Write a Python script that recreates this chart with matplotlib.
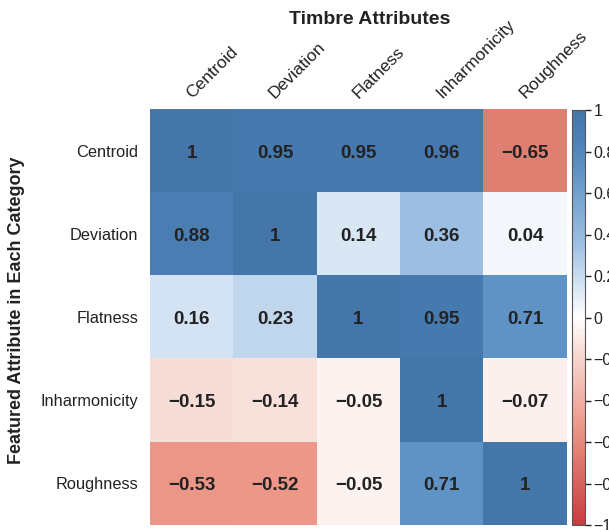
import numpy as np
import matplotlib
matplotlib.use("Agg")
import matplotlib.pyplot as plt
from matplotlib.colors import LinearSegmentedColormap

rows = ["Centroid", "Deviation", "Flatness", "Inharmonicity", "Roughness"]
cols = ["Centroid", "Deviation", "Flatness", "Inharmonicity", "Roughness"]
values = [
    [1.00, 0.95, 0.95, 0.96, -0.65],
    [0.88, 1.00, 0.14, 0.36, 0.04],
    [0.16, 0.23, 1.00, 0.95, 0.71],
    [-0.15, -0.14, -0.05, 1.00, -0.07],
    [-0.53, -0.52, -0.05, 0.71, 1.00],
]
labels = [
    ["1", "0.95", "0.95", "0.96", "\u22120.65"],
    ["0.88", "1", "0.14", "0.36", "0.04"],
    ["0.16", "0.23", "1", "0.95", "0.71"],
    ["\u22120.15", "\u22120.14", "\u22120.05", "1", "\u22120.07"],
    ["\u22120.53", "\u22120.52", "\u22120.05", "0.71", "1"],
]
cbar_ticks = [1, 0.8, 0.6, 0.4, 0.2, 0, -0.2, -0.4, -0.6, -0.8, -1]

plt.rcParams['font.family'] = ['Liberation Sans', 'DejaVu Sans']

anchors = [
    (-1.00, (200, 60, 65)),
    (-0.65, (224, 128, 115)),
    (-0.52, (238, 152, 138)),
    (-0.15, (248, 222, 216)),
    (0.00, (255, 255, 255)),
    (0.14, (217, 231, 245)),
    (0.36, (157, 191, 227)),
    (0.71, (95, 147, 198)),
    (0.88, (75, 127, 180)),
    (1.00, (68, 118, 170)),
]
cmap = LinearSegmentedColormap.from_list(
    "custom", [((v + 1) / 2, tuple(c / 255 for c in rgb)) for v, rgb in anchors])

W, H = 609, 530
fig = plt.figure(figsize=(W / 100, H / 100), dpi=100)
ax = fig.add_axes([150 / W, (H - 525) / H, 417 / W, 416 / H])
data = np.array(values)
im = ax.imshow(data, cmap=cmap, vmin=-1, vmax=1, aspect='auto')

for i in range(len(rows)):
    for j in range(len(cols)):
        ax.annotate(labels[i][j], xy=(j, i), xytext=(0, -1.8), textcoords='offset points',
                    ha='center', va='center',
                    fontsize=13.5, fontweight='bold', color='#222222')

ax.set_xticks(range(len(cols)))
ax.set_yticks(range(len(rows)))
ax.set_yticklabels(rows, fontsize=11.75, color='#222222')
ax.set_xticklabels([])
ax.tick_params(length=0, pad=8.5)
for j, c in enumerate(cols):
    ax.annotate(c, xy=(j, -0.5), xycoords='data', xytext=(0, 7), textcoords='offset points',
                rotation=45, rotation_mode='anchor', ha='left', va='baseline',
                fontsize=12.5, color='#222222', annotation_clip=False)
for s in ax.spines.values():
    s.set_visible(False)

cax = fig.add_axes([572 / W, (H - 525) / H, 13 / W, 415 / H])
cb = fig.colorbar(im, cax=cax, ticks=cbar_ticks)
cb.ax.set_yticklabels([("\u2212" + f"{abs(t):g}") if t < 0 else f"{t:g}" for t in cbar_ticks])
cb.ax.tick_params(labelsize=11.5, length=4, width=1, color='#222222', labelcolor='#222222', pad=2)
cb.outline.set_edgecolor('#555555')
cb.outline.set_linewidth(0.8)

fig.text(370 / W, 1 - 19 / H, "Timbre Attributes", ha='center', va='center',
         fontsize=14, fontweight='bold', color='#222222')
fig.text(17 / W, 1 - 310 / H, "Featured Attribute in Each Category", ha='center', va='center',
         rotation=90, fontsize=13, fontweight='bold', color='#222222')

fig.savefig("out.png", dpi=100)
